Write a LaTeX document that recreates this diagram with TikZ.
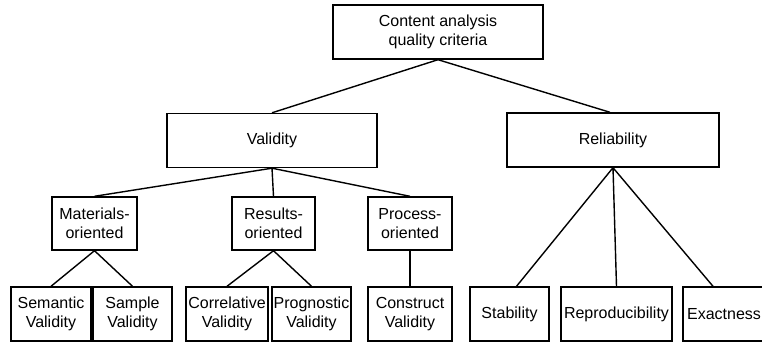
\documentclass[tikz,border=0pt]{standalone}
\usepackage{fontspec}
\setmainfont{Liberation Sans}
\usepackage{tikz}
\usetikzlibrary{shapes,arrows,calc,positioning}
\tikzset{crit/.style={draw,rectangle,line width=1.4pt,align=center,inner sep=0pt,
  font=\fontsize{16}{18.5}\selectfont}}
\tikzstyle{bigbox}=[crit, minimum width=210pt, minimum height=54pt]
\tikzstyle{midbox}=[crit, minimum width=84pt, minimum height=53pt]
\tikzstyle{lowbox}=[crit, minimum width=80pt, minimum height=54pt]

\begin{document}
\begin{tikzpicture}[x=1pt, y=-1pt, line width=1.4pt]
\useasboundingbox (0,0) rectangle (762,342);
% top levels
\node[bigbox] (quality) at (438,32) {Content analysis\\quality criteria};
\node[bigbox] (valid) at (272,140.5) {Validity};
\node[bigbox, minimum width=212pt] (reliab) at (613,140) {Reliability};
% validity groups
\node[midbox, minimum width=85pt] (mater) at (94.5,223.5) {Materials-\\oriented};
\node[midbox, minimum width=83pt] (result) at (273.5,223.5) {Results-\\oriented};
\node[midbox] (process) at (410,223.5) {Process-\\oriented};
% leaves
\node[lowbox] (semant) at (51,314) {Semantic\\Validity};
\node[lowbox, minimum width=79pt] (sample) at (132.5,314) {Sample\\Validity};
\node[lowbox, minimum width=82pt] (correl) at (227,314) {Correlative\\Validity};
\node[lowbox, minimum width=79pt] (prognos) at (311.5,314) {Prognostic\\Validity};
\node[lowbox, minimum width=84pt] (constr) at (410,314) {Construct\\Validity};
\node[lowbox, minimum width=79pt] (stabil) at (509.5,314) {Stability};
\node[lowbox, minimum width=111pt] (reprod) at (616.5,314) {Reproducibility};
\node[lowbox, minimum width=82pt] (exact) at (724,314) {Exactness};

\draw (quality.south) -- (valid.north)
      (quality.south) -- ([xshift=-3pt]reliab.north);
\draw (valid.south) -- (mater.north)
      (valid.south) -- (result.north)
      (valid.south) -- (process.north);
\draw (mater.south) -- (semant.north)
      (mater.south) -- (sample.north);
\draw (result.south) -- (correl.north)
      (result.south) -- (prognos.north);
\draw (process.south) -- (constr.north);
\draw (reliab.south) -- ([xshift=7pt]stabil.north)
      (reliab.south) -- (reprod.north)
      (reliab.south) -- ([xshift=-11pt]exact.north);
\end{tikzpicture}
\end{document}
